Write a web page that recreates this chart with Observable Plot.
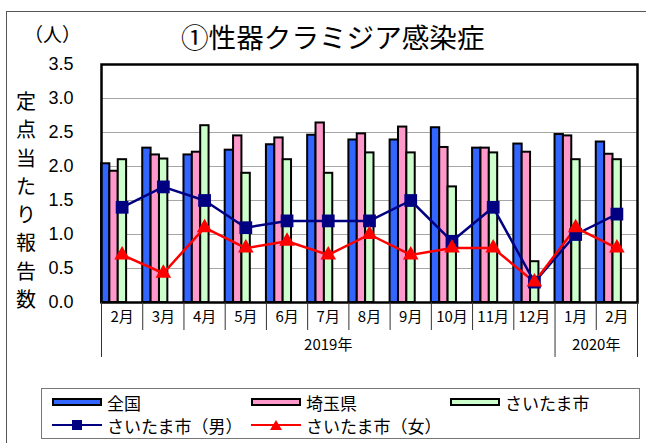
<!DOCTYPE html>
<html><head><meta charset="utf-8">
<script src="https://cdn.jsdelivr.net/npm/d3@7"></script>
<script src="https://cdn.jsdelivr.net/npm/@observablehq/plot@0.6"></script>
<style>
body{margin:0;background:#fff;}
#wrap{position:relative;width:646px;height:443px;overflow:hidden;background:#fff;font-family:"Noto Sans CJK JP",sans-serif;color:#000;}
#wrap svg.chart{position:absolute;left:0;top:0;}
.abs{position:absolute;white-space:nowrap;}
#outer{position:absolute;left:6px;top:11px;width:800px;height:600px;border:1px solid #555;}
#title{left:181px;top:23px;font-size:27.6px;line-height:1;}
#unit{left:24px;top:24px;font-size:19px;line-height:1;}
#ylab{left:13px;top:87px;width:26px;text-align:center;font-size:20px;line-height:28.3px;white-space:normal;}
#legend{position:absolute;left:41px;top:388px;width:597px;height:49px;border:1px solid #777;background:#fff;}
.item{position:absolute;display:flex;align-items:center;height:20px;font-size:17px;line-height:1;}
.patch{width:46px;height:4px;border:2px solid #000;margin-right:5px;}
.item svg{margin-right:5px;}
</style></head>
<body>
<div id="wrap">
  <div id="outer"></div>
  <div id="chart"></div>
  <div id="title" class="abs"></div>
  <div id="unit" class="abs"></div>
  <div id="ylab" class="abs"></div>
  <div id="legend"></div>
</div>
<script>
// ---- data ----
const months = ["2月","3月","4月","5月","6月","7月","8月","9月","10月","11月","12月","1月","2月"];
const years = ["2019年","2020年"];
const yearMonthCounts = [11, 2];
const national    = [2.04,2.27,2.17,2.24,2.32,2.46,2.39,2.39,2.57,2.27,2.33,2.47,2.36];
const saitamaPref = [1.93,2.17,2.21,2.45,2.42,2.64,2.48,2.58,2.28,2.27,2.21,2.45,2.18];
const saitamaCity = [2.10,2.11,2.60,1.90,2.10,1.90,2.20,2.20,1.70,2.20,0.60,2.10,2.10];
const cityMale    = [1.4,1.7,1.5,1.1,1.2,1.2,1.2,1.5,0.9,1.4,0.3,1.0,1.3];
const cityFemale  = [0.7,0.43,1.1,0.8,0.9,0.7,1.0,0.7,0.8,0.8,0.3,1.1,0.8];
const yTicks = [0,0.5,1.0,1.5,2.0,2.5,3.0,3.5];
const barNames = ["全国","埼玉県","さいたま市"];
const lineNames = ["さいたま市（男）","さいたま市（女）"];
const titleText = "①性器クラミジア感染症";
const unitText = "（人）";
const yLabelText = "定点当たり報告数";

// ---- styles ----
const barColors = ["#3366ff","#ff99cc","#ccffcc"];
const maleColor = "#000080", femaleColor = "#ff0000";
const bw = 0.203;

const barSeries = [national, saitamaPref, saitamaCity];
const bars = [];
barSeries.forEach((s, k) => s.forEach((v, i) => bars.push({i, k, v})));

let acc = 0;
const yearCenters = yearMonthCounts.map(c => { const c0 = acc; acc += c; return c0 + c / 2; });
const yearEdges = [0]; { let a = 0; yearMonthCounts.forEach(c => { a += c; yearEdges.push(a); }); }
const monthEdges = d3.range(1, months.length).filter(e => !yearEdges.includes(e));

const chart = Plot.plot({
  width: 646, height: 443,
  marginLeft: 101, marginRight: 9, marginTop: 64, marginBottom: 141,
  x: {domain: [0, months.length], axis: null},
  y: {domain: [0, 3.5], axis: null},
  style: {background: "transparent", fontFamily: "'Noto Sans CJK JP', sans-serif", color: "#000"},
  marks: [
    Plot.ruleY(yTicks.filter(v => v > 0 && v < 3.5), {stroke: "#a6a6a6", strokeWidth: 1}),
    Plot.rect(bars, {x1: d => d.i + d.k * bw, x2: d => d.i + (d.k + 1) * bw, y1: 0, y2: d => d.v,
      fill: d => barColors[d.k], stroke: "#000", strokeWidth: 2}),
    Plot.line(cityMale, {x: (d, i) => i + 0.5, y: d => d, stroke: maleColor, strokeWidth: 2.5}),
    Plot.line(cityFemale, {x: (d, i) => i + 0.5, y: d => d, stroke: femaleColor, strokeWidth: 2.5}),
    Plot.dot(cityMale, {x: (d, i) => i + 0.5, y: d => d, symbol: "square", r: 7.2, fill: maleColor, stroke: "none"}),
    Plot.dot(cityFemale, {x: (d, i) => i + 0.5, y: d => d, symbol: "triangle", r: 5.8, fill: femaleColor, stroke: "none"}),
    Plot.frame({stroke: "#000", strokeWidth: 2.5}),
    Plot.axisY(yTicks, {tickSize: 0, tickPadding: 28, tickFormat: d3.format(".1f"), fontSize: 18,
      fontFamily: "'Liberation Sans', Arial, sans-serif", label: null}),
    Plot.ruleX(monthEdges, {x: d => d, y1: 0, y2: 0, insetBottom: -28, stroke: "#333", strokeWidth: 1}),
    Plot.ruleX(yearEdges, {x: d => d, y1: 0, y2: 0, insetBottom: -55, stroke: "#333", strokeWidth: 1}),
    Plot.text(months, {x: (d, i) => i + 0.5, y: 0, dy: 15, text: d => d, fontSize: 15}),
    Plot.text(years, {x: (d, i) => yearCenters[i], y: 0, dy: 43, text: d => d, fontSize: 15})
  ]
});
chart.classList.add("chart");
document.getElementById("chart").appendChild(chart);

document.getElementById("title").textContent = titleText;
document.getElementById("unit").textContent = unitText;
document.getElementById("ylab").innerHTML = Array.from(yLabelText).join("<br>");

// legend
const legend = document.getElementById("legend");
const colX = [10, 209, 408];
barNames.forEach((n, k) => {
  const el = document.createElement("div");
  el.className = "item";
  el.style.left = colX[k] + "px"; el.style.top = "3px";
  el.innerHTML = `<div class="patch" style="background:${barColors[k]}"></div><span>${n}</span>`;
  legend.appendChild(el);
});
const sym = (c, kind) => {
  const m = kind === "square"
    ? `<rect x="20" y="2" width="10" height="10" fill="${c}"/>`
    : `<polygon points="25,2 31,12 19,12" fill="${c}"/>`;
  return `<svg width="50" height="14"><line x1="0" x2="50" y1="7" y2="7" stroke="${c}" stroke-width="2"/>${m}</svg>`;
};
lineNames.forEach((n, k) => {
  const el = document.createElement("div");
  el.className = "item";
  el.style.left = colX[k] + "px"; el.style.top = "26px";
  el.innerHTML = sym(k === 0 ? maleColor : femaleColor, k === 0 ? "square" : "triangle") + `<span>${n}</span>`;
  legend.appendChild(el);
});
</script>
</body></html>
